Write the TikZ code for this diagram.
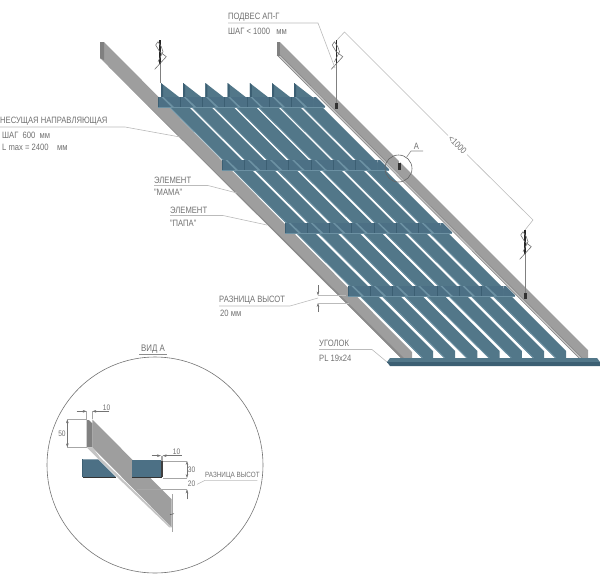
\documentclass[tikz,border=0pt]{standalone}
\usepackage{fontspec}
\setmainfont[FakeStretch=0.83]{Liberation Sans}
\usetikzlibrary{arrows.meta}
\definecolor{slat}{HTML}{527789}
\definecolor{slatlight}{HTML}{6C91A3}
\definecolor{slatdark}{HTML}{3C5F73}
\definecolor{boxblue}{HTML}{4C7085}
\definecolor{railg}{HTML}{9E9E9E}
\definecolor{railface}{HTML}{808080}
\definecolor{railedge}{HTML}{8A8A8A}
\definecolor{raillight}{HTML}{C4C4C4}
\definecolor{inktxt}{HTML}{707070}
\definecolor{leadc}{HTML}{BBBBBB}
\tikzset{
  lab/.style={anchor=west,inner sep=0pt,text=inktxt,font=\fontsize{9.2}{10}\selectfont},
  smalllab/.style={anchor=center,inner sep=0pt,text=inktxt,font=\fontsize{8}{9}\selectfont},
  leader/.style={draw=leadc,line width=0.6pt},
  dimline/.style={draw=black!35,line width=0.35pt},
  dimarrow/.style={draw=black!55,line width=0.35pt,-{Stealth[length=4pt,width=2.6pt]}},
  thinrod/.style={draw=black!50,line width=0.9pt},
  darkrod/.style={draw=black!85,line width=1.1pt},
  squiggle/.style={draw=black!55,line width=0.6pt,line join=round}
}
\newcommand{\hangerat}[3]{%
  \draw[thinrod] (#1,#2) -- (#1,#3);
  \draw[darkrod] (#1,#2) -- (#1,#2+24);
  \draw[squiggle] (#1-5.3,#2+29.3) -- (#1+6.3,#2+16.7) -- (#1-0.3,#2+11.7) -- (#1-4.3,#2+5) -- (#1-2,#2+1.7) -- (#1+1.3,#2+6.7) -- (#1+3,#2+11.7) -- (#1-2,#2+21.7);
}
\newcommand{\bandrow}[2]{%
  \foreach \j in {0,...,6}{
    \pgfmathsetmacro{\bx}{#1+22.2*\j}
    \fill[boxblue] (\bx,#2) rectangle (\bx+22.2,#2+10);
    \draw[slatdark,line width=0.4pt] (\bx,#2) -- (\bx,#2+10);
    \fill[slatlight] (\bx+3.5,#2) -- (\bx+5.5,#2) -- (\bx+16,#2+10) -- (\bx+13.5,#2+10) -- cycle;
  }
  \fill[boxblue] (#1+155.4,#2) -- (#1+158,#2) -- (#1+167,#2+9) -- (#1+167,#2+10) -- (#1+155.4,#2+10) -- cycle;
  \draw[slatlight,line width=0.7pt] (#1,#2+10) -- (#1+167,#2+10);
}
\begin{document}
\begin{tikzpicture}[x=1pt,y=-1pt]
\useasboundingbox (0,0) rectangle (600,574);
% left rail
\fill[railg] (104,42) -- (412,352) -- (412,361) -- (404,361) -- (100,58) -- cycle;
\fill[railedge] (110.5,68.5) -- (407,361) -- (404,361) -- (108,66) -- cycle;
\fill[railface] (100,42) -- (104,42) -- (104,60) -- (100,58) -- cycle;
% right rail
\fill[railg] (280,42) -- (588,350) -- (588,359) -- (583,359) -- (280,55) -- cycle;
\fill[raillight] (280,55) -- (583,359) -- (580,359) -- (277,55) -- cycle;
\draw[black!50,line width=0.5pt] (280,55) -- (583,359);
\draw[black!50,line width=0.5pt] (277,55) -- (580,359);
\fill[railface] (277,42) -- (280,42) -- (280,56) -- (277,56) -- cycle;
% slats
\foreach \i in {0,...,6}{
  \pgfmathsetmacro{\d}{22.2*\i}
  \fill[slat] (161+\d,83) -- (179+\d,97) -- (189+\d,107) -- (433+\d,351) -- (433+\d,360) -- (424+\d,360) -- (161+\d,99) -- cycle;
  \fill[slatlight] (424+\d,360) -- (161+\d,99) -- (162+\d,99) -- (425.2+\d,360) -- cycle;
  \fill[slatdark] (161+\d,83) -- (163+\d,85) -- (163+\d,97.5) -- (161+\d,97.5) -- cycle;
}
% cross bands
\bandrow{158}{97}
\bandrow{222}{160}
\bandrow{285}{223}
\bandrow{348}{286}
% bottom angle
\fill[slatdark] (387,362) -- (600,362) -- (600,366) -- (390,366) -- cycle;
\fill[slat] (390,358) -- (597,358) -- (600,362) -- (387,362) -- cycle;
\draw[slatdark,line width=0.4pt] (387,362) -- (600,362);
% hangers
\hangerat{160}{40}{83}
\hangerat{336.5}{40}{104}
\hangerat{525}{230}{294}
\fill[black!80] (335,103) rectangle (338,109);
\fill[black!80] (523.5,293) rectangle (526.5,299);
% detail marker
\draw[white,line width=0.8pt] (399,158) -- (399,167);
\fill[black!80] (398,163) rectangle (400.5,170);
\node[circle,draw=black!60,line width=0.6pt,minimum size=27pt,inner sep=0pt] (detail) at (398.5,168.5) {};
\node[lab,anchor=center] (markA) at (416.5,146) {А};
\coordinate (markAe) at (423,151);
\coordinate (markAm) at (411,151);
\draw[leader,draw=black!45] (markAe) -- (markAm) -- (detail);
% spacing dimension
\coordinate (dimTopFoot) at (337,40);
\coordinate (dimTop) at (344.5,32);
\coordinate (dimBot) at (533,220);
\coordinate (dimBotFoot) at (525,230);
\node[lab,anchor=center,rotate=-45] (dimText) at (457.5,145) {<1000};
\draw[leader] (dimTopFoot) -- (dimTop) -- (448,135.5);
\draw[leader] (467,154.5) -- (dimBot) -- (dimBotFoot);
% labels
\node[lab] (lHang) at (228,17.5) {ПОДВЕС АП-Г};
\node[lab] (lHang2) at (228,31) {ШАГ < 1000\ \ \ мм};
\coordinate (lHangA) at (228,23); \coordinate (lHangB) at (318,23); \coordinate (lHangC) at (335,68);
\draw[leader] (lHangA) -- (lHangB) -- (lHangC);
\node[lab] (lRail) at (0,121) {НЕСУЩАЯ НАПРАВЛЯЮЩАЯ};
\node[lab] (lRail2) at (2,135) {ШАГ\ \ 600\ \ мм};
\node[lab] (lRail3) at (2,147) {L max = 2400\ \ \ \ мм};
\coordinate (lRailA) at (0,127); \coordinate (lRailB) at (125,127); \coordinate (lRailC) at (180,137);
\draw[leader] (lRailA) -- (lRailB) -- (lRailC);
\node[lab] (lMam) at (154,180) {ЭЛЕМЕНТ};
\node[lab] (lMam2) at (154,192) {"МАМА"};
\coordinate (lMamA) at (154,185.5); \coordinate (lMamB) at (208,185.5); \coordinate (lMamC) at (237,193);
\draw[leader] (lMamA) -- (lMamB) -- (lMamC);
\node[lab] (lPap) at (170,210) {ЭЛЕМЕНТ};
\node[lab] (lPap2) at (170,223) {"ПАПА"};
\coordinate (lPapA) at (170,215.5); \coordinate (lPapB) at (223,215.5); \coordinate (lPapC) at (267,225);
\draw[leader] (lPapA) -- (lPapB) -- (lPapC);
\node[lab] (lDiff) at (219,300) {РАЗНИЦА ВЫСОТ};
\node[lab] (lDiff2) at (220,313) {20 мм};
\coordinate (lDiffA) at (219,306); \coordinate (lDiffB) at (290,306); \coordinate (lDiffC) at (318,298);
\draw[leader] (lDiffA) -- (lDiffB) -- (lDiffC);
\coordinate (dTopA) at (318,285); \coordinate (dTopB) at (318,295.5);
\coordinate (dBotA) at (318,312); \coordinate (dBotB) at (318,303);
\draw[dimarrow] (dTopA) -- (dTopB);
\draw[dimarrow] (dBotA) -- (dBotB);
\coordinate (dExtA) at (346,295.5); \coordinate (dExtB) at (349,303);
\draw[leader] (dTopB) -- (dExtA);
\draw[leader] (dBotB) -- (dExtB);
\node[lab] (lAng) at (319,343) {УГОЛОК};
\node[lab] (lAng2) at (319,358) {PL 19x24};
\coordinate (lAngA) at (319,349.5); \coordinate (lAngB) at (372,349.5); \coordinate (lAngC) at (387,362);
\draw[leader] (lAngA) -- (lAngB) -- (lAngC);
% view A
\node[lab,anchor=center,font=\fontsize{9.5}{10}\selectfont] (viewT) at (153,349) {ВИД А};
\coordinate (viewA) at (139,354.5); \coordinate (viewB) at (167,354.5);
\draw[draw=black!45,line width=0.5pt] (viewA) -- (viewB);
\node[circle,draw=black!55,line width=0.6pt,minimum size=216pt,inner sep=0pt] (viewC) at (155,465) {};
\begin{scope}[shift={(40,340)},scale=1/3]
  % left box
  \fill[boxblue] (127,358) -- (175,358) -- (228,411) -- (127,411) -- cycle;
  \draw[black!80,line width=0.6pt] (130,412) -- (228,412);
  \draw[slatdark,line width=0.5pt] (127,358) -- (127,412);
  % rail
  \fill[railg] (157,238) -- (395,478) -- (395,562) -- (157,322) -- cycle;
  \fill[raillight] (180,352) -- (395,562) -- (388,562) -- (176,358) -- cycle;
  \fill[railface] (140,240) -- (147,240) -- (157,250) -- (157,322) -- (140,322) -- cycle;
  \fill[raillight] (140,322) -- (157,322) -- (180,352) -- (176,358) -- cycle;
  % right box
  \fill[boxblue] (277,360) rectangle (363,411);
  \fill[black!75] (363,362) rectangle (368,412);
  \draw[black!80,line width=0.6pt] (277,412) -- (366,412);
  % rail end line
  \coordinate (endA) at (396,462); \coordinate (endB) at (396,575);
  \draw[dimline] (endA) -- (endB);
  \coordinate (tickA) at (390,524); \coordinate (tickB) at (402,521);
  \draw[black!70,line width=0.5pt] (tickA) -- (tickB);
  % dims
  \node[smalllab] (d10a) at (200,204) {10};
  \coordinate (a1) at (110,214); \coordinate (a2) at (140,214);
  \coordinate (a3) at (208,214); \coordinate (a4) at (157,214);
  \draw[dimarrow] (a1) -- (a2); \draw[dimarrow] (a3) -- (a4);
  \coordinate (a5) at (140,238); \coordinate (a6) at (157,238);
  \draw[dimline] (a2) -- (a5); \draw[dimline] (a4) -- (a6);
  \node[smalllab] (d50) at (66,281) {50};
  \coordinate (b0) at (82,281); \coordinate (b1) at (82,238); \coordinate (b2) at (82,322);
  \coordinate (b3) at (140,322);
  \draw[dimarrow] (b0) -- (b1); \draw[dimarrow] (b0) -- (b2);
  \draw[dimline] (b1) -- (a5); \draw[dimline] (b2) -- (b3);
  \node[smalllab] (d10b) at (410,334) {10};
  \coordinate (c1) at (335,347); \coordinate (c2) at (363,347);
  \coordinate (c3) at (426,347); \coordinate (c4) at (368,347);
  \draw[dimarrow] (c1) -- (c2); \draw[dimarrow] (c3) -- (c4);
  \coordinate (c5) at (363,362); \coordinate (c6) at (368,362);
  \draw[dimline] (c2) -- (c5); \draw[dimline] (c4) -- (c6);
  \node[smalllab] (d30) at (455,390) {30};
  \coordinate (e0) at (441,388); \coordinate (e1) at (441,363); \coordinate (e2) at (441,414);
  \coordinate (e3) at (368,363); \coordinate (e4) at (368,414);
  \draw[dimarrow] (e0) -- (e1); \draw[dimarrow] (e0) -- (e2);
  \draw[dimline] (e1) -- (e3); \draw[dimline] (e2) -- (e4);
  \node[smalllab] (d20) at (455,432) {20};
  \coordinate (f1) at (441,478); \coordinate (f2) at (441,448); \coordinate (f3) at (290,448);
  \draw[dimarrow] (f1) -- (f2); \draw[dimline] (f2) -- (f3);
  \node[smalllab,anchor=west,font=\fontsize{7.6}{9}\selectfont] (dDiff) at (495,407) {РАЗНИЦА ВЫСОТ};
  \coordinate (g1) at (652,421); \coordinate (g2) at (495,421); \coordinate (g3) at (471,433);
  \draw[leader] (g1) -- (g2) -- (g3);
\end{scope}
\end{tikzpicture}
\end{document}
